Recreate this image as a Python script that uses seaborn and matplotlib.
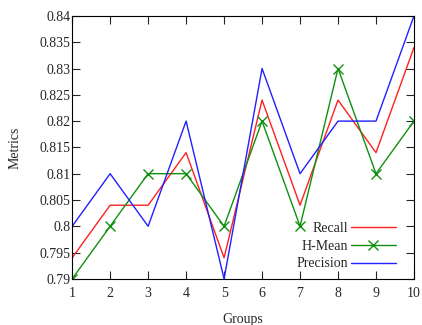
import matplotlib
matplotlib.use("Agg")
import matplotlib.pyplot as plt
import pandas as pd
import seaborn as sns
from matplotlib.ticker import FuncFormatter

groups = [1, 2, 3, 4, 5, 6, 7, 8, 9, 10]
recall = [0.794, 0.804, 0.804, 0.814, 0.794, 0.824, 0.804, 0.824, 0.814, 0.834]
hmean = [0.79, 0.80, 0.81, 0.81, 0.80, 0.82, 0.80, 0.83, 0.81, 0.82]
precision = [0.80, 0.81, 0.80, 0.82, 0.79, 0.83, 0.81, 0.82, 0.82, 0.84]

sns.set_style("ticks")
plt.rcParams["font.family"] = ["Liberation Serif", "DejaVu Serif"]
plt.rcParams["font.size"] = 10

fig = plt.figure(figsize=(4.22, 3.25), dpi=100)
ax = fig.add_axes([0.171, 0.142, 0.810, 0.809])

df = pd.DataFrame({"Groups": groups, "Recall": recall, "H-Mean": hmean, "Precision": precision})

sns.lineplot(data=df, x="Groups", y="Recall", ax=ax, color="#ff2020", lw=1.0, label="Recall")
sns.lineplot(data=df, x="Groups", y="H-Mean", ax=ax, color="#109010", lw=1.0, marker="x",
             markersize=6.5, markeredgewidth=1.0, markeredgecolor="#109010", label="H-Mean")
sns.lineplot(data=df, x="Groups", y="Precision", ax=ax, color="#2020ff", lw=1.0, label="Precision")

ax.set_xlim(1, 10)
ax.set_ylim(0.79, 0.84)
ax.set_xticks(groups)
ax.set_yticks([0.79, 0.795, 0.80, 0.805, 0.81, 0.815, 0.82, 0.825, 0.83, 0.835, 0.84])
ax.yaxis.set_major_formatter(FuncFormatter(lambda v, p: "%g" % round(v, 3)))
ax.tick_params(direction="in", top=True, right=True, length=6, width=0.8, labelsize=10)
ax.tick_params(axis="y", pad=1)
ax.tick_params(axis="x", pad=6)
for s in ax.spines.values():
    s.set_linewidth(0.8)
    s.set_color("black")

ax.set_xlabel("Groups", fontsize=10, labelpad=9)
ax.set_ylabel("Metrics", fontsize=10, labelpad=13)

ax.legend(loc="lower right", bbox_to_anchor=(0.975, -0.005), frameon=False, markerfirst=False,
          handlelength=3.2, handletextpad=0.2, labelspacing=0.35, fontsize=10, borderpad=0.2)

fig.savefig("out.png", dpi=100)
